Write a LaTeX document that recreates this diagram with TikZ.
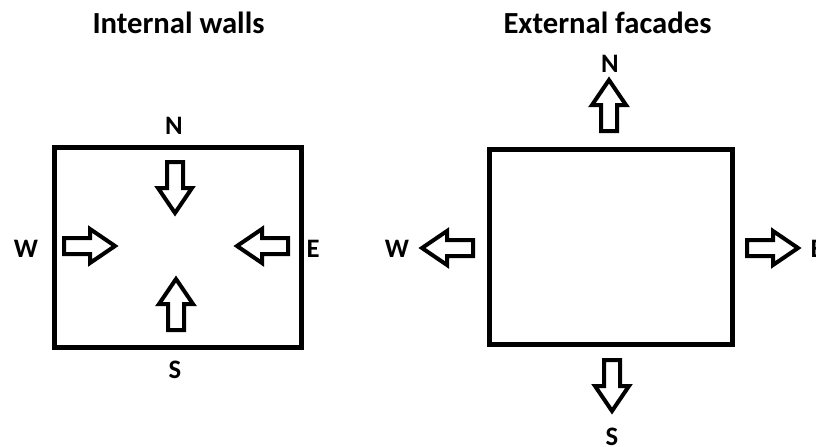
\documentclass[tikz,border=0pt]{standalone}
\usepackage{fontspec}
\setmainfont{Carlito}
\begin{document}
\begin{tikzpicture}[x=0.75pt,y=-0.75pt,
  wall/.style={draw=black,line width=3.75pt},
  arrowline/.style={draw=black,fill=white,line width=3pt,line join=miter},
  lbl/.style={font=\bfseries\fontsize{20}{24}\selectfont,anchor=base,inner sep=0pt},
  ttl/.style={font=\bfseries\fontsize{23}{28}\selectfont,anchor=base,inner sep=0pt},
  barrow/.pic={\draw[arrowline] (0,-8) -- (26,-8) -- (26,-17) -- (51,0) -- (26,17) -- (26,8) -- (0,8) -- cycle;}]
\useasboundingbox[fill=white] (0,0) rectangle (816,446);
% titles
\node[ttl] (t1) at (178.5,33) {Internal walls};
\node[ttl] (t2) at (607.5,33) {External facades};
% left box
\draw[wall] (54.5,147.5) rectangle (301.5,347.5);
\pic[rotate=-90] (iN) at (175,162) {barrow};
\pic[rotate=90] (iS) at (176,330) {barrow};
\pic (iW) at (64,246) {barrow};
\pic[rotate=180] (iE) at (288,246) {barrow};
\node[lbl] (lN) at (174,134) {N};
\node[lbl] (lS) at (175,378) {S};
\node[lbl] (lW) at (26,257) {W};
\node[lbl] (lE) at (313,257) {E};
% right box
\draw[wall] (489.5,149.5) rectangle (732.5,344.5);
\pic[rotate=90] (oN) at (609,131) {barrow};
\pic[rotate=-90] (oS) at (612,360) {barrow};
\pic[rotate=180] (oW) at (473,248) {barrow};
\pic (oE) at (747,248) {barrow};
\node[lbl] (rN) at (610,72) {N};
\node[lbl] (rS) at (612,445) {S};
\node[lbl] (rW) at (397,257) {W};
\node[lbl] (rE) at (817,257) {E};
\end{tikzpicture}
\end{document}
